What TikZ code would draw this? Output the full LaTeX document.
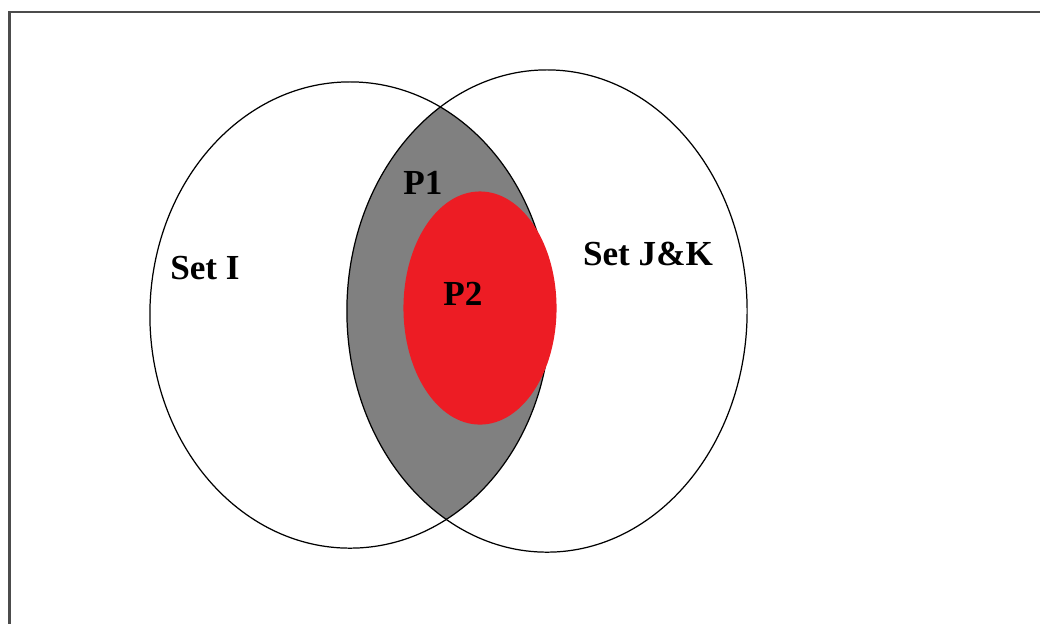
\documentclass[tikz,border=0pt]{standalone}
\usepackage{fontspec}
\setmainfont{Liberation Serif}
\usetikzlibrary{calc}
\definecolor{lensgray}{RGB}{128,128,128}
\definecolor{pred}{RGB}{237,28,36}

\begin{document}
\begin{tikzpicture}[x=0.01cm,y=-0.01cm]
\tikzstyle{setline}=[line width=0.35pt,draw=black]
\tikzstyle{lbl}=[font=\fontsize{10}{12}\selectfont\bfseries,inner sep=0pt]
\useasboundingbox (0,0) rectangle (1040,623);
\coordinate (I) at (350,315);
\coordinate (JK) at (547,311);
\coordinate (R) at (480,308);
% frame, only top and left show
\draw[line width=0.75pt,draw=black!70] (9.5,640) -- (9.5,12) -- (1060,12);
% shaded overlap
\begin{scope}
\clip (I) ellipse [x radius=2cm, y radius=2.33cm];
\fill[lensgray] (JK) ellipse [x radius=2cm, y radius=2.41cm];
\end{scope}
\draw[setline] (I) ellipse [x radius=2cm, y radius=2.33cm];
\draw[setline] (JK) ellipse [x radius=2cm, y radius=2.41cm];
\fill[pred] (R) ellipse [x radius=0.765cm, y radius=1.165cm];
\node[lbl] (setI) at (205,268) {Set I};
\node[lbl] (setJK) at (648,254) {Set J\&K};
\node[lbl] (p1) at (423,183) {P1};
\node[lbl] (p2) at (463,294) {P2};
\end{tikzpicture}
\end{document}
